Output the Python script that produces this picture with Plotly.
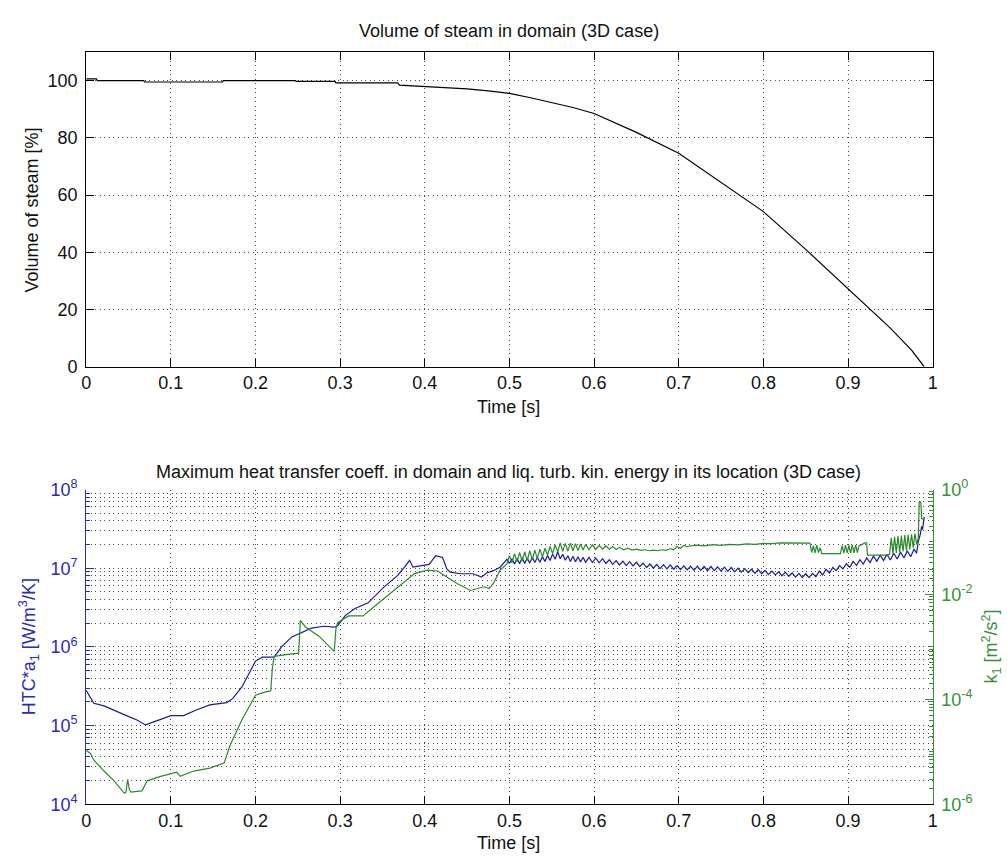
import plotly.graph_objects as go

# ---------------- data ----------------
# Top: volume of steam [%] vs time [s]
t_steam = [0.0, 0.012, 0.013, 0.068, 0.069, 0.161, 0.162, 0.247, 0.248, 0.294, 0.295,
           0.368, 0.37, 0.41, 0.45, 0.475, 0.5, 0.525, 0.55, 0.575, 0.6, 0.65, 0.7, 0.75,
           0.8, 0.85, 0.875, 0.9, 0.925, 0.95, 0.975, 0.99]
v_steam = [100.6, 100.6, 100.0, 100.0, 99.5, 99.5, 100.0, 100.0, 99.7, 99.7, 99.2,
           99.2, 98.4, 97.8, 97.1, 96.4, 95.5, 94.0, 92.3, 90.6, 88.5, 81.9, 74.6, 64.3,
           54.2, 41.0, 34.2, 27.1, 20.6, 13.5, 5.8, 0.0]

# Bottom: max HTC*a1 [W/m3/K] (left, log)
t_htc = [0.0, 0.009, 0.021, 0.033, 0.049, 0.06, 0.07, 0.088, 0.1, 0.115, 0.13, 0.146,
         0.166, 0.173, 0.184, 0.2, 0.208, 0.222, 0.231, 0.243, 0.254, 0.266, 0.281,
         0.293, 0.297, 0.306, 0.317, 0.333, 0.352, 0.368, 0.376, 0.382, 0.386, 0.399,
         0.405, 0.413, 0.421, 0.426, 0.43, 0.442, 0.457, 0.467, 0.473, 0.481, 0.489,
         0.497, 0.5, 0.503, 0.506, 0.509, 0.512, 0.515, 0.518, 0.521, 0.524, 0.527,
         0.53, 0.533, 0.536, 0.539, 0.542, 0.545, 0.548, 0.551, 0.554, 0.557, 0.56,
         0.563, 0.566, 0.569, 0.572, 0.575, 0.578, 0.581, 0.584, 0.587, 0.59, 0.594,
         0.598, 0.602, 0.606, 0.61, 0.614, 0.618, 0.622, 0.626, 0.63, 0.634, 0.638,
         0.642, 0.646, 0.65, 0.654, 0.658, 0.662, 0.666, 0.67, 0.674, 0.678, 0.682,
         0.686, 0.69, 0.694, 0.698, 0.702, 0.706, 0.71, 0.714, 0.718, 0.722, 0.726,
         0.73, 0.734, 0.738, 0.742, 0.746, 0.75, 0.754, 0.758, 0.762, 0.766, 0.77,
         0.774, 0.778, 0.782, 0.786, 0.79, 0.794, 0.798, 0.802, 0.806, 0.81, 0.814,
         0.818, 0.822, 0.826, 0.83, 0.834, 0.838, 0.842, 0.846, 0.85, 0.854, 0.858,
         0.862, 0.866, 0.87, 0.874, 0.878, 0.882, 0.886, 0.89, 0.894, 0.898, 0.902,
         0.906, 0.91, 0.914, 0.918, 0.922, 0.926, 0.93, 0.934, 0.938, 0.942, 0.946,
         0.95, 0.954, 0.958, 0.962, 0.966, 0.97, 0.974, 0.978, 0.981, 0.983, 0.985,
         0.987, 0.988, 0.99]
htc = [2.8e5, 1.92e5, 1.78e5, 1.58e5, 1.32e5, 1.18e5, 1.02e5, 1.2e5, 1.34e5, 1.34e5,
       1.58e5, 1.83e5, 1.96e5, 2.2e5, 3.1e5, 6.6e5, 7.4e5, 7.4e5, 1.01e6, 1.34e6,
       1.51e6, 1.73e6, 1.83e6, 1.78e6, 1.86e6, 2.5e6, 3.05e6, 3.63e6, 5.8e6, 8.1e6,
       1.03e7, 1.26e7, 1.03e7, 1.08e7, 1.12e7, 1.44e7, 1.37e7, 9.8e6, 8.9e6, 8.5e6,
       8.5e6, 7.7e6, 8.7e6, 9.3e6, 1.03e7, 1.30e7,
       1.15e7, 1.32e7, 1.13e7, 1.34e7, 1.14e7, 1.36e7, 1.15e7, 1.35e7, 1.16e7, 1.38e7,
       1.18e7, 1.37e7, 1.19e7, 1.40e7, 1.22e7, 1.45e7, 1.25e7, 1.52e7, 1.30e7, 1.62e7,
       1.32e7, 1.50e7, 1.26e7, 1.44e7, 1.22e7, 1.42e7, 1.21e7, 1.40e7, 1.20e7, 1.38e7,
       1.19e7, 1.37e7, 1.18e7, 1.35e7, 1.17e7, 1.32e7, 1.15e7, 1.28e7, 1.12e7, 1.25e7,
       1.10e7, 1.23e7, 1.08e7, 1.21e7, 1.07e7, 1.19e7, 1.05e7, 1.16e7, 1.02e7, 1.13e7,
       1.00e7, 1.12e7, 9.9e6, 1.11e7, 9.8e6, 1.10e7, 9.7e6, 1.08e7, 9.6e6, 1.07e7,
       9.5e6, 1.06e7, 9.4e6, 1.06e7, 9.4e6, 1.05e7, 9.3e6, 1.05e7, 9.3e6, 1.04e7,
       9.2e6, 1.03e7, 9.1e6, 1.02e7, 9.0e6, 1.00e7, 8.9e6, 9.9e6, 8.8e6, 9.7e6,
       8.6e6, 9.6e6, 8.5e6, 9.4e6, 8.3e6, 9.2e6, 8.2e6, 9.0e6, 8.0e6, 8.9e6,
       7.9e6, 8.7e6, 7.7e6, 8.6e6, 7.6e6, 8.5e6, 7.6e6, 8.6e6, 7.8e6, 9.2e6,
       8.2e6, 9.7e6, 8.7e6, 1.02e7, 9.3e6, 1.08e7, 9.8e6, 1.14e7, 1.03e7, 1.22e7,
       1.08e7, 1.28e7, 1.13e7, 1.35e7, 1.18e7, 1.42e7, 1.22e7, 1.46e7, 1.25e7, 1.50e7,
       1.27e7, 1.55e7, 1.31e7, 1.60e7, 1.35e7, 1.66e7, 1.40e7, 1.75e7, 1.55e7, 2.2e7,
       2.6e7, 3.4e7, 3.1e7, 4.5e7]

# Bottom: liquid turbulent kinetic energy k1 [m2/s2] (right, log)
t_k = [0.0, 0.005, 0.009, 0.021, 0.033, 0.045, 0.047, 0.049, 0.051, 0.053, 0.06, 0.066,
       0.072, 0.088, 0.107, 0.111, 0.127, 0.146, 0.163, 0.17, 0.184, 0.2, 0.212, 0.218,
       0.22, 0.222, 0.236, 0.251, 0.253, 0.259, 0.275, 0.293, 0.295, 0.297, 0.31, 0.327,
       0.341, 0.356, 0.372, 0.388, 0.403, 0.415, 0.426, 0.438, 0.454, 0.462, 0.47, 0.476,
       0.481, 0.489, 0.497,
       0.5, 0.503, 0.506, 0.509, 0.512, 0.515, 0.518, 0.521, 0.524, 0.527, 0.53, 0.533,
       0.536, 0.539, 0.542, 0.545, 0.548, 0.551, 0.554, 0.557, 0.56, 0.563, 0.566, 0.569,
       0.572, 0.575, 0.578, 0.581, 0.584, 0.587, 0.59, 0.594, 0.598, 0.602, 0.606, 0.61,
       0.614, 0.618, 0.622, 0.626, 0.63, 0.635, 0.64, 0.645, 0.65, 0.655, 0.66, 0.665,
       0.67, 0.675, 0.68, 0.685, 0.69, 0.694, 0.698, 0.702, 0.706, 0.71, 0.72, 0.73,
       0.74, 0.75, 0.76, 0.77, 0.78, 0.79, 0.8, 0.81, 0.82, 0.83, 0.84, 0.855, 0.857,
       0.859, 0.861, 0.863, 0.865, 0.867, 0.869, 0.875, 0.891, 0.893, 0.895, 0.897, 0.899,
       0.901, 0.903, 0.905, 0.907, 0.909, 0.911, 0.913, 0.915, 0.92, 0.922, 0.923, 0.927,
       0.935, 0.945, 0.949, 0.951, 0.953, 0.955, 0.957, 0.959, 0.961, 0.963, 0.965, 0.967,
       0.969, 0.971, 0.973, 0.975, 0.977, 0.979, 0.981, 0.983, 0.984, 0.986, 0.987, 0.989]
k1 = [1.07e-5, 9.3e-6, 7.0e-6, 4.3e-6, 2.8e-6, 1.62e-6, 1.7e-6, 3.0e-6, 1.9e-6, 1.7e-6,
      1.76e-6, 1.8e-6, 2.8e-6, 3.4e-6, 4.1e-6, 3.4e-6, 4.3e-6, 4.9e-6, 6.1e-6, 1.33e-5,
      4.1e-5, 1.2e-4, 1.39e-4, 1.45e-4, 4.0e-4, 6.6e-4, 7.1e-4, 7.6e-4, 3.2e-3, 2.4e-3,
      1.6e-3, 8.2e-4, 2.2e-3, 2.9e-3, 3.9e-3, 3.9e-3, 6.0e-3, 9.5e-3, 1.51e-2, 2.5e-2,
      2.9e-2, 2.8e-2, 2.15e-2, 1.62e-2, 1.19e-2, 1.3e-2, 1.4e-2, 1.3e-2, 1.62e-2, 2.9e-2,
      3.8e-2,
      5.5e-2, 4.0e-2, 6.0e-2, 4.2e-2, 6.3e-2, 4.3e-2, 6.5e-2, 4.4e-2, 6.8e-2, 4.6e-2,
      7.0e-2, 4.8e-2, 7.3e-2, 5.2e-2, 7.6e-2, 5.6e-2, 8.2e-2, 6.0e-2, 8.8e-2, 6.4e-2,
      9.6e-2, 6.6e-2, 9.4e-2, 6.7e-2, 9.5e-2, 6.8e-2, 9.3e-2, 6.9e-2, 9.2e-2, 7.0e-2,
      9.0e-2, 7.1e-2, 8.8e-2, 7.2e-2, 8.6e-2, 7.3e-2, 8.4e-2, 7.3e-2, 8.2e-2, 7.2e-2,
      7.9e-2, 7.1e-2, 7.6e-2, 7.0e-2, 7.3e-2, 6.9e-2, 7.1e-2, 6.8e-2, 7.0e-2, 6.8e-2,
      7.1e-2, 6.9e-2, 7.5e-2, 7.1e-2, 8.2e-2, 7.6e-2, 8.6e-2, 8.2e-2, 8.7e-2, 8.4e-2,
      8.9e-2, 8.6e-2, 9.0e-2, 8.8e-2, 9.2e-2, 9.0e-2, 9.4e-2, 9.3e-2, 9.6e-2, 9.5e-2,
      9.6e-2, 9.5e-2, 6.3e-2, 8.5e-2, 6.2e-2, 8.7e-2, 6.3e-2, 7.8e-2, 6.0e-2, 6.0e-2,
      6.0e-2, 8.5e-2, 6.1e-2, 8.7e-2, 6.2e-2, 8.6e-2, 6.1e-2, 8.8e-2, 6.2e-2, 8.7e-2,
      6.3e-2, 8.6e-2, 8.7e-2, 9.6e-2, 9.6e-2, 5.6e-2, 5.6e-2, 5.5e-2, 5.6e-2, 5.8e-2,
      1.2e-1, 6.0e-2, 1.25e-1, 6.2e-2, 1.3e-1, 6.4e-2, 1.32e-1, 6.6e-2, 1.35e-1, 6.8e-2,
      1.37e-1, 7.2e-2, 1.4e-1, 7.8e-2, 1.45e-1, 9.0e-2, 1.2e-1, 5.7e-1, 5.8e-1, 2.8e-1,
      2.7e-1]

x_ticks = [0, 0.1, 0.2, 0.3, 0.4, 0.5, 0.6, 0.7, 0.8, 0.9, 1.0]
x_ticktext = ["0", "0.1", "0.2", "0.3", "0.4", "0.5", "0.6", "0.7", "0.8", "0.9", "1"]
y_top_ticks = [0, 20, 40, 60, 80, 100]
left_exps = [4, 5, 6, 7, 8]
right_exps = [-6, -4, -2, 0]
right_minor_exps = [-6, -5, -4, -3, -2, -1]
left_minor_exps = [4, 5, 6, 7]

# ---------------- layout helpers ----------------
W, H = 1007, 863
def fx(x):
    return x / W
def fy(y):
    return 1 - y / H

FONT = "Liberation Sans, Arial, sans-serif"
FS = 18
BLUE_LINE = "#1a1a9e"
BLUE_AX = "#2a2ac0"
GREEN_LINE = "#2a8a2a"
GREEN_AX = "#3a8f3a"
GRID = "#4a4a4a"
DASH = "1px,3.5px"

left_major = [10.0 ** e for e in left_exps]
left_text = ["10<sup>%d</sup>" % e for e in left_exps]
left_minor = [m * 10.0 ** e for e in left_minor_exps for m in range(2, 10)]
right_major = [10.0 ** e for e in right_exps]
right_text = ["10<sup>%d</sup>" % e for e in right_exps]
right_minor = [m * 10.0 ** e for e in right_minor_exps for m in range(1, 10)
               if not (m == 1 and e in right_exps)]

fig = go.Figure()
fig.add_trace(go.Scatter(x=t_steam, y=v_steam, mode="lines",
                         line=dict(color="black", width=1.2),
                         xaxis="x", yaxis="y", showlegend=False))
fig.add_trace(go.Scatter(x=t_htc, y=htc, mode="lines",
                         line=dict(color=BLUE_LINE, width=1.2),
                         xaxis="x2", yaxis="y3", showlegend=False))
fig.add_trace(go.Scatter(x=t_k, y=k1, mode="lines",
                         line=dict(color=GREEN_LINE, width=1.2),
                         xaxis="x2", yaxis="y4", showlegend=False))

xcommon = dict(range=[0, 1], tickmode="array", tickvals=x_ticks, ticktext=x_ticktext,
               ticks="inside", ticklen=8, tickcolor="black", showline=True,
               linecolor="black", linewidth=1, showgrid=True, gridcolor=GRID,
               griddash=DASH, gridwidth=1, zeroline=False,
               tickfont=dict(family=FONT, size=FS, color="#111111"),
               ticklabelstandoff=0, domain=[fx(82), fx(937)])

fig.update_layout(
    width=W, height=H, margin=dict(l=0, r=0, t=0, b=0),
    paper_bgcolor="white", plot_bgcolor="white", showlegend=False,
    xaxis=dict(anchor="y", mirror="ticks", **xcommon),
    yaxis=dict(anchor="x", domain=[fy(364), fy(41)], range=[0, 110],
               tickmode="array", tickvals=y_top_ticks, ticks="inside", ticklen=8,
               tickcolor="black", showline=True, linecolor="black", linewidth=1,
               mirror="ticks", showgrid=True, gridcolor=GRID, griddash=DASH,
               gridwidth=1, zeroline=False, ticklabelstandoff=4,
               tickfont=dict(family=FONT, size=FS, color="#111111")),
    xaxis2=dict(anchor="y3", **xcommon),
    yaxis3=dict(anchor="x2", domain=[fy(813), fy(490)], type="log", range=[4, 8],
                tickmode="array", tickvals=left_major, ticktext=left_text,
                ticks="inside", ticklen=8, tickcolor=BLUE_AX, showline=True,
                linecolor=BLUE_AX, linewidth=1, showgrid=True, gridcolor=GRID,
                griddash=DASH, gridwidth=1, zeroline=False, ticklabelstandoff=4,
                tickfont=dict(family=FONT, size=FS, color=BLUE_AX),
                minor=dict(tickmode="array", tickvals=left_minor, ticks="inside",
                           ticklen=4, tickcolor=BLUE_AX, showgrid=True,
                           gridcolor=GRID, griddash=DASH, gridwidth=1)),
    yaxis4=dict(anchor="x2", overlaying="y3", side="right", type="log", range=[-6, 0],
                tickmode="array", tickvals=right_major, ticktext=right_text,
                ticks="inside", ticklen=8, tickcolor=GREEN_AX, showline=True,
                linecolor=GREEN_AX, linewidth=1, showgrid=False, zeroline=False,
                ticklabelstandoff=4,
                tickfont=dict(family=FONT, size=FS, color=GREEN_AX),
                minor=dict(tickmode="array", tickvals=right_minor, ticks="inside",
                           ticklen=4, tickcolor=GREEN_AX, showgrid=False)),
)

def ann(text, x, y, angle=0, color="#111111"):
    fig.add_annotation(text=text, x=fx(x), y=fy(y), xref="paper", yref="paper",
                       showarrow=False, textangle=angle, xanchor="center",
                       yanchor="middle", font=dict(family=FONT, size=FS, color=color))

ann("Volume of steam in domain (3D case)", 509, 20)
ann("Time [s]", 509, 405)
ann("Volume of steam [%]", 27, 203, angle=-90)
ann("Maximum heat transfer coeff. in domain and liq. turb. kin. energy in its location (3D case)",
    509, 472)
ann("Time [s]", 509, 853)
ann("HTC*a<sub>1</sub> [W/m<sup>3</sup>/K]", 24, 651, angle=-90, color=BLUE_AX)
ann("k<sub>1</sub> [m<sup>2</sup>/s<sup>2</sup>]", 996, 651, angle=-90, color=GREEN_AX)

fig.write_html("out.html")
